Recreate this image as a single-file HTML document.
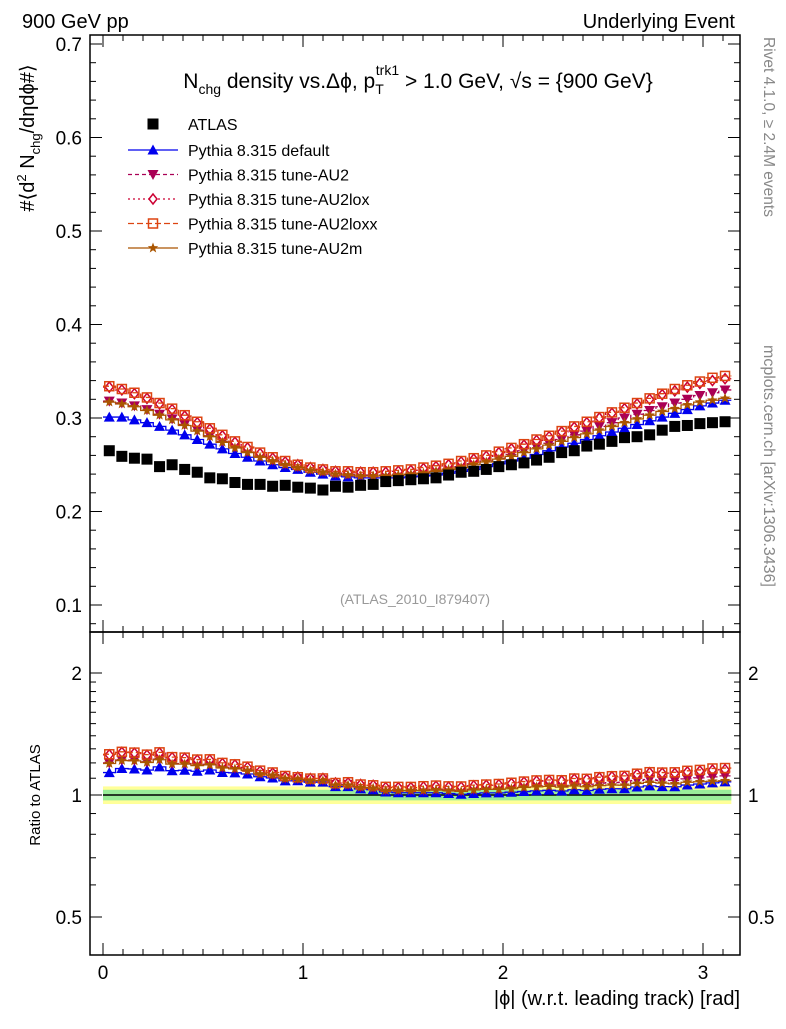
<!DOCTYPE html>
<html><head><meta charset="utf-8"><style>
body{margin:0;background:#fff}
svg text{font-family:"Liberation Sans",sans-serif}
</style></head><body>
<svg id="c" width="786" height="1024" xmlns="http://www.w3.org/2000/svg">
<text x="22" y="28" font-size="20">900 GeV pp</text>
<text x="735" y="28" font-size="20" text-anchor="end">Underlying Event</text>
<text x="418" y="88" font-size="21" text-anchor="middle">N<tspan font-size="14" dy="6">chg</tspan><tspan dy="-6"> density vs.Δϕ, p</tspan><tspan font-size="14" dy="6">T</tspan><tspan font-size="14" dx="-8" dy="-19">trk1</tspan><tspan dy="13"> &gt; 1.0 GeV, √s = {900 GeV}</tspan></text>
<text transform="translate(34,138) rotate(-90)" font-size="20" text-anchor="middle">#⟨d<tspan font-size="13" dy="-8">2</tspan><tspan dy="8"> N</tspan><tspan font-size="13" dy="6">chg</tspan><tspan dy="-6">/dηdϕ#⟩</tspan></text>
<text transform="translate(40,795) rotate(-90)" font-size="15" text-anchor="middle">Ratio to ATLAS</text>
<text x="740" y="1005" font-size="20" text-anchor="end">|ϕ| (w.r.t. leading track) [rad]</text>
<text transform="translate(764,37) rotate(90)" font-size="15.5" fill="#888">Rivet 4.1.0, ≥ 2.4M events</text>
<text transform="translate(764,345) rotate(90)" font-size="16" fill="#888">mcplots.cern.ch [arXiv:1306.3436]</text>
<text x="415" y="604" font-size="14" fill="#999" text-anchor="middle">(ATLAS_2010_I879407)</text>
<g id="g"></g>
</svg>
<script>
const atlas=[0.265,0.259,0.257,0.256,0.248,0.250,0.245,0.242,0.236,0.235,0.231,0.229,0.229,0.227,0.228,0.226,0.225,0.223,0.227,0.226,0.228,0.229,0.232,0.233,0.234,0.235,0.236,0.239,0.242,0.243,0.245,0.248,0.250,0.252,0.255,0.258,0.263,0.265,0.270,0.272,0.275,0.279,0.280,0.282,0.287,0.291,0.292,0.294,0.295,0.296];
const def=[0.301,0.301,0.298,0.295,0.291,0.287,0.282,0.277,0.272,0.267,0.262,0.258,0.254,0.250,0.247,0.245,0.242,0.240,0.238,0.237,0.236,0.236,0.236,0.236,0.237,0.238,0.239,0.241,0.243,0.245,0.248,0.251,0.254,0.257,0.261,0.265,0.269,0.273,0.277,0.281,0.285,0.289,0.293,0.297,0.301,0.305,0.309,0.313,0.316,0.319];
const au2=[0.318,0.316,0.313,0.309,0.304,0.299,0.293,0.287,0.281,0.275,0.269,0.264,0.259,0.255,0.251,0.248,0.245,0.243,0.241,0.240,0.239,0.239,0.239,0.240,0.241,0.242,0.244,0.246,0.248,0.251,0.254,0.257,0.261,0.265,0.269,0.273,0.277,0.282,0.286,0.291,0.295,0.300,0.304,0.308,0.312,0.316,0.320,0.324,0.327,0.330];
const au2lox=[0.333,0.330,0.326,0.321,0.315,0.309,0.302,0.295,0.288,0.281,0.274,0.268,0.262,0.257,0.253,0.250,0.247,0.245,0.243,0.242,0.242,0.242,0.242,0.243,0.244,0.246,0.248,0.250,0.253,0.256,0.259,0.263,0.267,0.271,0.276,0.280,0.285,0.290,0.295,0.300,0.305,0.310,0.315,0.320,0.325,0.329,0.333,0.337,0.340,0.342];
const au2loxx=[0.334,0.331,0.327,0.322,0.316,0.310,0.303,0.296,0.289,0.282,0.275,0.269,0.263,0.258,0.254,0.250,0.247,0.245,0.243,0.243,0.242,0.242,0.243,0.244,0.245,0.247,0.249,0.251,0.254,0.257,0.260,0.264,0.268,0.272,0.277,0.281,0.286,0.291,0.296,0.301,0.306,0.311,0.316,0.321,0.326,0.331,0.335,0.339,0.343,0.345];
const au2m=[0.317,0.315,0.312,0.308,0.303,0.298,0.292,0.286,0.280,0.274,0.268,0.263,0.258,0.254,0.250,0.247,0.244,0.242,0.240,0.239,0.238,0.238,0.238,0.239,0.240,0.241,0.243,0.245,0.247,0.250,0.253,0.256,0.259,0.263,0.267,0.271,0.275,0.279,0.283,0.287,0.291,0.295,0.299,0.303,0.307,0.310,0.314,0.317,0.319,0.321];
const mainTicks=[0.1,0.2,0.3,0.4,0.5,0.6,0.7];
const ratioTicks=[0.5,1,2];
const xTicks=[0,1,2,3];
const NS="http://www.w3.org/2000/svg";
const g=document.getElementById('g');
const L=90,R=740,T=35,M=632,B=955;
const X=v=>103+v*200;
const Y=v=>605-(v-0.1)*935;
const YR=v=>795-Math.log2(v)*122;
function el(t,a,p){const e=document.createElementNS(NS,t);for(const k in a)e.setAttribute(k,a[k]);(p||g).appendChild(e);return e;}
const n=atlas.length,w=Math.PI/n;
const xc=atlas.map((_,i)=>(i+0.5)*w);
let b1=el('rect',{x:X(0),y:YR(1.05),width:X(Math.PI)-X(0),height:YR(0.95)-YR(1.05),fill:'#ffff99'});


let b2=el('rect',{x:X(0),y:YR(1.03),width:X(Math.PI)-X(0),height:YR(0.97)-YR(1.03),fill:'#99ee99'});


el('line',{x1:X(0),x2:X(Math.PI),y1:YR(1),y2:YR(1),stroke:'#000','stroke-width':1.5});
let f1=el('rect',{x:L,y:T,width:R-L,height:M-T,fill:'none',stroke:'#000','stroke-width':1.5});


let f2=el('rect',{x:L,y:M,width:R-L,height:B-M,fill:'none',stroke:'#000','stroke-width':1.5});


for(let v=0.08;v<=0.72;v+=0.02){const y=Y(v);if(y<T||y>M)continue;const maj=Math.abs(v*10-Math.round(v*10))<1e-6;const l=maj?12:6;
el('line',{x1:L,x2:L+l,y1:y,y2:y,stroke:'#000'});el('line',{x1:R,x2:R-l,y1:y,y2:y,stroke:'#000'});}
mainTicks.forEach(v=>{const t=el('text',{x:L-8,y:Y(v)+7,'font-size':19,'text-anchor':'end'});t.textContent=v.toFixed(1);

});
[0.5,0.6,0.7,0.8,0.9,1,1.1,1.2,1.3,1.4,1.5,1.6,1.7,1.8,1.9,2].forEach(v=>{const y=YR(v);const maj=ratioTicks.includes(v);const l=maj?12:6;
el('line',{x1:L,x2:L+l,y1:y,y2:y,stroke:'#000'});el('line',{x1:R,x2:R-l,y1:y,y2:y,stroke:'#000'});});
ratioTicks.forEach(v=>{const t=el('text',{x:L-8,y:YR(v)+7,'font-size':19,'text-anchor':'end'});t.textContent=String(v);


const t2=el('text',{x:R+8,y:YR(v)+7,'font-size':19});t2.textContent=String(v);

});
for(let k=-0.0;k<=3.15;k+=0.1){const x=X(k);const maj=Math.abs(k-Math.round(k))<1e-6;const l=maj?12:6;
[T,M].forEach(y0=>el('line',{x1:x,x2:x,y1:y0,y2:y0+l,stroke:'#000'}));
[M,B].forEach(y0=>el('line',{x1:x,x2:x,y1:y0,y2:y0-l,stroke:'#000'}));}
xTicks.forEach(v=>{const t=el('text',{x:X(v),y:B+24,'font-size':19,'text-anchor':'middle'});t.textContent=String(v);

});
function marker(type,x,y,c,p){
 if(type==='sq')return el('rect',{x:x-5.5,y:y-5.5,width:11,height:11,fill:'#000'},p);
 if(type==='up')return el('polygon',{points:`${x},${y-5.5} ${x-5.5},${y+4.5} ${x+5.5},${y+4.5}`,fill:c},p);
 if(type==='dn')return el('polygon',{points:`${x},${y+5.5} ${x-5.5},${y-4.5} ${x+5.5},${y-4.5}`,fill:c},p);
 if(type==='dia')return el('polygon',{points:`${x},${y-5} ${x-4},${y} ${x},${y+5} ${x+4},${y}`,fill:'#fff',stroke:c,'stroke-width':1.5},p);
 if(type==='osq')return el('rect',{x:x-4.5,y:y-4.5,width:9,height:9,fill:'none',stroke:c,'stroke-width':1.5},p);
 if(type==='star'){let pts=[];for(let k=0;k<10;k++){const r=k%2?2.3:5.5,a=-Math.PI/2+k*Math.PI/5;pts.push((x+r*Math.cos(a))+','+(y+r*Math.sin(a)));}return el('polygon',{points:pts.join(' '),fill:c},p);}
}
const series=[
 {d:def,c:'#0000ee',m:'up',dash:'',name:'Pythia 8.315 default',id:'default'},
 {d:au2,c:'#aa0055',m:'dn',dash:'4,3',name:'Pythia 8.315 tune-AU2',id:'au2'},
 {d:au2lox,c:'#cc0033',m:'dia',dash:'2,3',name:'Pythia 8.315 tune-AU2lox',id:'au2lox'},
 {d:au2loxx,c:'#dd4411',m:'osq',dash:'6,3',name:'Pythia 8.315 tune-AU2loxx',id:'au2loxx'},
 {d:au2m,c:'#aa5500',m:'star',dash:'',name:'Pythia 8.315 tune-AU2m',id:'au2m'}];
series.forEach(s=>{
 const sg=el('g',{});
 
 
 let p='',pr='';
 s.d.forEach((v,i)=>{const x0=X(i*w),x1=X((i+1)*w);p+=(i?'L':'M')+x0+','+Y(v)+'L'+x1+','+Y(v);
  const r=v/atlas[i];pr+=(i?'L':'M')+x0+','+YR(r)+'L'+x1+','+YR(r);});
 el('path',{d:p,fill:'none',stroke:s.c,'stroke-width':1.3,'stroke-dasharray':s.dash},sg);
 el('path',{d:pr,fill:'none',stroke:s.c,'stroke-width':1.3,'stroke-dasharray':s.dash},sg);
 s.d.forEach((v,i)=>{const m=marker(s.m,X(xc[i]),Y(v),s.c,sg);
  
  
  const m2=marker(s.m,X(xc[i]),YR(v/atlas[i]),s.c,sg);
  
  });
});
const ag=el('g',{});


atlas.forEach((v,i)=>{const m=marker('sq',X(xc[i]),Y(v),'#000',ag);
 
 });
const lg=el('g',{});


const e0=el('g',{},lg);


marker('sq',153,124,'#000',e0);
const t0=el('text',{x:188,y:130,'font-size':16},e0);t0.textContent='ATLAS';
series.forEach((s,k)=>{const y=150+k*24.5;const eg=el('g',{},lg);
 
 
 el('line',{x1:128,x2:178,y1:y,y2:y,stroke:s.c,'stroke-width':1.3,'stroke-dasharray':s.dash},eg);
 marker(s.m,153,y,s.c,eg);
 const t=el('text',{x:188,y:y+6,'font-size':16},eg);t.textContent=s.name;});
</script>
</body></html>
